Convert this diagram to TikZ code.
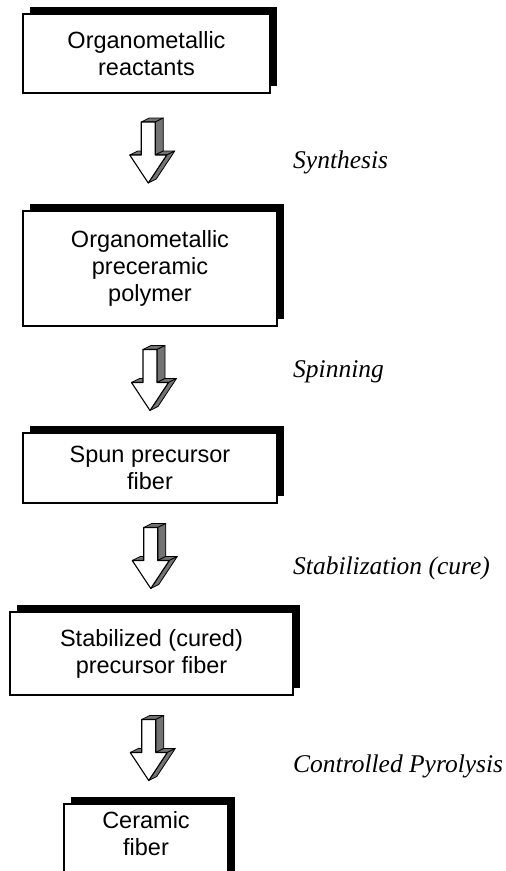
\documentclass[tikz,border=0pt]{standalone}
\usepackage{fontspec}
\setmainfont{Liberation Serif}
\setsansfont{Liberation Sans}
\usetikzlibrary{shadows,calc}

\tikzset{
  stepbox/.style={draw, line width=1.3pt, fill=white, inner sep=0pt, align=center,
    font=\sffamily\fontsize{23.5}{27}\selectfont,
    general shadow={fill=black, shadow xshift=7pt, shadow yshift=7pt}},
  boxtext/.style={align=center, inner sep=0pt, font=\sffamily\fontsize{23.5}{27}\selectfont},
  steplabel/.style={anchor=west, inner sep=0pt, font=\itshape\fontsize{25.5}{30}\selectfont},
  side/.style={fill=black!55, draw=black, line width=0.8pt, line join=round},
  blockarrow/.pic={
    % extruded sides first, then the white front
    \foreach \p/\q in {{-7,-30}/{7,-30},{7,-30}/{7,3},{7,3}/{18.5,3},{18.5,3}/{0,31},{-18.5,3}/{-7,3}}
      \filldraw[side] (\p) -- (\q) -- ([shift={(8,-4)}]\q) -- ([shift={(8,-4)}]\p) -- cycle;
    \filldraw[fill=white, line width=1.1pt, line join=round]
      (-7,-30) -- (7,-30) -- (7,3) -- (18.5,3) -- (0,31) -- (-18.5,3) -- (-7,3) -- cycle;
  }
}

\begin{document}
\begin{tikzpicture}[x=1pt,y=-1pt]
\useasboundingbox (0,0) rectangle (506,871);
\clip (0,0) rectangle (506,871);

% process steps
\node[stepbox, minimum width=247pt, minimum height=79pt] (react) at (146.5,53.5) {Organometallic\\reactants};
\node[stepbox, minimum width=254pt, minimum height=115pt] (polymer) at (150,268.5) {Organometallic\\preceramic\\polymer};
\node[stepbox, minimum width=254pt, minimum height=70pt] (spun) at (150,468) {Spun precursor\\fiber};
\node[stepbox, minimum width=283pt, minimum height=83pt] (cured) at (151.5,653.5) {Stabilized (cured)\\precursor fiber};
\node[stepbox, minimum width=164pt, minimum height=82pt] (ceramic) at (146,845) {};
\node[boxtext] (ceramictext) at (146,834) {Ceramic\\fiber};

% arrows between the steps
\pic at ($(react.south)!0.5!(polymer.north)$) {blockarrow};
\pic at ($(polymer.south)!0.5!(spun.north)$) {blockarrow};
\pic at ($(spun.south)!0.5!(cured.north)$) {blockarrow};
\pic at ($(cured.south)!0.5!(ceramic.north)$) {blockarrow};

% process names
\node[steplabel] (synth) at (293,162) {Synthesis};
\node[steplabel] (spin) at (293,372) {Spinning};
\node[steplabel] (stab) at (293,568) {Stabilization (cure)};
\node[steplabel] (pyro) at (293,766) {Controlled Pyrolysis};

\end{tikzpicture}
\end{document}
